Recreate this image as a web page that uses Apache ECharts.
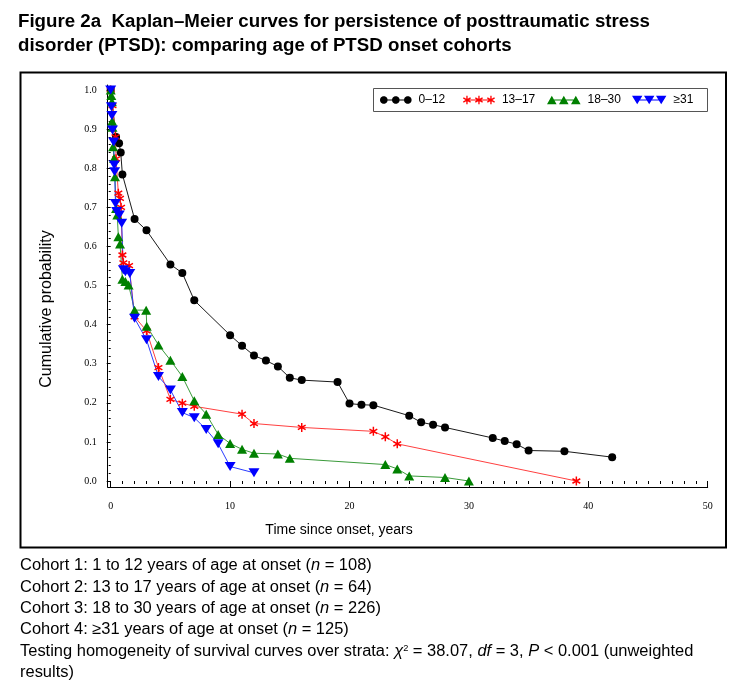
<!DOCTYPE html>
<html><head><meta charset="utf-8">
<script src="https://cdn.jsdelivr.net/npm/echarts@6/dist/echarts.min.js"></script>
<style>html,body{margin:0;padding:0;background:#fff}#c{width:745px;height:696px}</style>
</head><body><div id="c"></div>
<script>
// ---------- data (time since onset in years, cumulative probability) ----------
const legendNames = ['0–12', '13–17', '18–30', '≥31'];
const persist0to12 = [[0,1.0],[0.45,0.88],[0.7,0.864],[0.84,0.84],[0.98,0.784],[2,0.67],[3,0.641],[5,0.554],[6,0.532],[7,0.462],[10,0.373],[11,0.346],[12,0.321],[13,0.308],[14,0.293],[15,0.264],[16,0.258],[19,0.253],[20,0.198],[21,0.195],[22,0.194],[25,0.167],[26,0.15],[27,0.144],[28,0.137],[32,0.11],[33,0.102],[34,0.094],[35,0.078],[38,0.076],[42,0.061]];
const persist13to17 = [[0,1.0],[0.15,0.96],[0.4,0.88],[0.45,0.824],[0.64,0.736],[0.78,0.723],[0.87,0.70],[0.98,0.578],[1.06,0.558],[1.54,0.551],[2,0.42],[3,0.384],[4,0.29],[5,0.209],[6,0.199],[7,0.191],[11,0.171],[12,0.147],[16,0.137],[22,0.127],[23,0.113],[24,0.095],[39,0.0]];
const persist18to30 = [[0,1.0],[0.05,0.986],[0.1,0.97],[0.12,0.92],[0.15,0.905],[0.2,0.855],[0.28,0.825],[0.36,0.778],[0.45,0.697],[0.55,0.68],[0.64,0.625],[0.78,0.606],[0.98,0.516],[1.23,0.51],[1.5,0.501],[2,0.437],[2.97,0.437],[3.02,0.396],[4,0.348],[5,0.309],[6,0.267],[7,0.205],[8,0.171],[9,0.119],[10,0.096],[11,0.081],[12,0.071],[14,0.069],[15,0.058],[23,0.042],[24,0.031],[25,0.013],[28,0.009],[30,0.0]];
const persist31plus = [[0,1.0],[0.06,0.957],[0.1,0.935],[0.15,0.898],[0.25,0.867],[0.3,0.808],[0.33,0.791],[0.4,0.71],[0.5,0.689],[0.72,0.68],[0.92,0.659],[1.06,0.54],[1.23,0.535],[1.6,0.531],[2,0.416],[3,0.361],[4,0.267],[5,0.233],[6,0.175],[7,0.162],[8,0.132],[9,0.095],[10,0.037],[12,0.021]];
const titleLines = ['Figure 2a  Kaplan–Meier curves for persistence of posttraumatic stress', 'disorder (PTSD): comparing age of PTSD onset cohorts'];
const noteLines = [
  'Cohort 1: 1 to 12 years of age at onset ({i|n} = 108)',
  'Cohort 2: 13 to 17 years of age at onset ({i|n} = 64)',
  'Cohort 3: 18 to 30 years of age at onset ({i|n} = 226)',
  'Cohort 4: ≥31 years of age at onset ({i|n} = 125)',
  'Testing homogeneity of survival curves over strata: {i|χ}{sup|2} = 38.07, {i|df} = 3, {i|P} < 0.001 (unweighted',
  'results)'
];

// ---------- shape helpers ----------
function polyPath(pts){
  let a=0; for(let i=0;i<pts.length;i++){const p=pts[i],q=pts[(i+1)%pts.length]; a+=p[0]*q[1]-q[0]*p[1];}
  if(a<0) pts=pts.slice().reverse();
  return 'M'+pts.map(p=>p[0].toFixed(2)+','+p[1].toFixed(2)).join('L')+'Z';
}
function rectAlong(cx,cy,ang,half,w){
  const u=[Math.cos(ang),Math.sin(ang)], v=[-u[1],u[0]];
  return [[cx+u[0]*half+v[0]*w, cy+u[1]*half+v[1]*w],[cx+u[0]*half-v[0]*w, cy+u[1]*half-v[1]*w],
          [cx-u[0]*half-v[0]*w, cy-u[1]*half-v[1]*w],[cx-u[0]*half+v[0]*w, cy-u[1]*half+v[1]*w]];
}
function circlePts(cx,cy,r){const n=24,o=[];for(let k=0;k<n;k++){const t=k*2*Math.PI/n;o.push([cx+r*Math.cos(t),cy+r*Math.sin(t)]);}return o;}
function asteriskPolys(cx,cy,r,w){return [90,30,150].map(a=>rectAlong(cx,cy,a*Math.PI/180,r,w));}
function triUp(cx,cy,hw,hh){return [[cx,cy-hh],[cx+hw,cy+hh],[cx-hw,cy+hh]];}
function triDown(cx,cy,hw,hh){return [[cx-hw,cy-hh],[cx+hw,cy-hh],[cx,cy+hh]];}
function buildIcon(kind){
  const cs=[4,16,28], cy=5; let polys=[];
  polys.push([[cs[0],cy-0.5],[cs[2],cy-0.5],[cs[2],cy+0.5],[cs[0],cy+0.5]]);
  cs.forEach(c=>{
    if(kind==='circle') polys.push(circlePts(c,cy,3.8));
    else if(kind==='asterisk') polys=polys.concat(asteriskPolys(c,cy,4.2,0.65));
    else if(kind==='up') polys.push(triUp(c,cy,4.8,4.2));
    else polys.push(triDown(c,cy,5.2,4.2));
  });
  let mx=1e9,my=1e9,Mx=-1e9,My=-1e9;
  polys.forEach(p=>p.forEach(q=>{mx=Math.min(mx,q[0]);my=Math.min(my,q[1]);Mx=Math.max(Mx,q[0]);My=Math.max(My,q[1]);}));
  polys=polys.map(p=>p.map(q=>[q[0]-mx,q[1]-my]));
  return {path:'path://'+polys.map(polyPath).join(''), w:Mx-mx, h:My-my};
}
const asteriskSymbol = 'path://'+asteriskPolys(0,0,4,0.65).map(polyPath).join('');

// ---------- text fitting ----------
const mctx=document.createElement('canvas').getContext('2d');
function measure(t,font){mctx.font=font;return mctx.measureText(t).width;}
const titleFont='bold 18px "Liberation Sans"';
const titleScale = 632/measure(titleLines[0], titleFont);
const noteFont='16px "Liberation Sans"';
const noteScale = 677/measure('Testing homogeneity of survival curves over strata: χ2 = 38.07, df = 3, P < 0.001 (unweighted', noteFont);

const colors = ['#000000','#ff0000','#008000','#0000ff'];
const lineColors = ['#1a1a1a','#ff4040','#3a9a3a','#2a3cff'];
const iconKinds = ['circle','asterisk','up','down'];
const legendLefts = [380,463,547,632];

const chart = echarts.init(document.getElementById('c'), null, {renderer:'canvas'});

const graphics = [];
graphics.push({type:'rect', shape:{x:20.5,y:72.5,width:705.5,height:475}, style:{fill:'none',stroke:'#000',lineWidth:2}, silent:true});
graphics.push({type:'rect', shape:{x:373.5,y:88.5,width:334,height:23}, style:{fill:'none',stroke:'#555',lineWidth:1}, silent:true});
titleLines.forEach((t,i)=>graphics.push({type:'text', x:18, y:[22,46][i], scaleX:titleScale,
  style:{text:t, font:titleFont, fill:'#000', verticalAlign:'middle', align:'left'}}));
const noteY=[566,588,609,630,652,673];
noteLines.forEach((t,i)=>graphics.push({type:'text', x:20, y:noteY[i], scaleX:noteScale,
  style:{text:t, fontSize:16, fontFamily:'Liberation Sans', fill:'#000', verticalAlign:'middle', align:'left',
    rich:{i:{fontStyle:'italic',fontSize:16,fontFamily:'Liberation Sans'}, sup:{fontSize:9,fontFamily:'Liberation Sans',verticalAlign:'top'}}}}));
graphics.push({type:'text', x:47, y:309, rotation:Math.PI/2,
  style:{text:'Cumulative probability', fontSize:16, fontFamily:'Liberation Sans', fill:'#000', align:'center', verticalAlign:'middle'}});
graphics.push({type:'text', x:339, y:530,
  style:{text:'Time since onset, years', fontSize:14, fontFamily:'Liberation Sans', fill:'#000', align:'center', verticalAlign:'middle'}});

const legends = legendNames.map((n,i)=>{
  const ic=buildIcon(iconKinds[i]);
  return {left:legendLefts[i], top:93, padding:0, itemWidth:ic.w, itemHeight:ic.h, itemGap:0,
    selectedMode:false, data:[{name:n, icon:ic.path}], itemStyle:{borderWidth:0},
    textStyle:{fontSize:12, fontFamily:'Liberation Sans', color:'#000', lineHeight:14, padding:[0,0,0,2]}};
});

const seriesData=[persist0to12,persist13to17,persist18to30,persist31plus];
const symbols=['circle',asteriskSymbol,'triangle','triangle'];
const symSizes=[8,9,[10,9],[11,9]];
const series = seriesData.map((d,i)=>({
  name:legendNames[i], type:'line', xAxisIndex:0, yAxisIndex:0, data:d,
  symbol:symbols[i], symbolSize:symSizes[i], symbolRotate:i===3?180:0, symbolKeepAspect:i===1,
  showSymbol:true, showAllSymbol:true, clip:false, animation:false,
  itemStyle:{color:colors[i], borderWidth:0},
  lineStyle:{color:lineColors[i], width:1},
  emphasis:{disabled:true}
}));

chart.setOption({
  animation:false,
  backgroundColor:'#fff',
  legend: legends,
  grid:[
    {left:110.7, right:37.3, top:90, bottom:215, containLabel:false},
    {left:107.7, right:37.3, top:85, bottom:209, containLabel:false}
  ],
  xAxis:[
    {type:'value', gridIndex:0, min:0, max:50, interval:10, offset:6,
     axisLine:{show:false}, splitLine:{show:false},
     axisTick:{show:true, length:6, lineStyle:{color:'#000'}},
     minorTick:{show:true, splitNumber:10, length:3, lineStyle:{color:'#000'}},
     axisLabel:{margin:14, fontSize:10, fontFamily:'Liberation Serif', color:'#000'}},
    {type:'value', gridIndex:1, min:0, max:1, axisLine:{show:true, onZero:false, lineStyle:{color:'#000',width:1}},
     axisTick:{show:false}, axisLabel:{show:false}, splitLine:{show:false}}
  ],
  yAxis:[
    {type:'value', gridIndex:0, min:0, max:1, interval:0.1, offset:3,
     axisLine:{show:false}, splitLine:{show:false},
     axisTick:{show:true, length:4, lineStyle:{color:'#000'}},
     minorTick:{show:true, splitNumber:5, length:2, lineStyle:{color:'#000'}},
     axisLabel:{margin:11, fontSize:10, fontFamily:'Liberation Serif', color:'#000', padding:[5,0,0,0], formatter:v=>v.toFixed(1)}},
    {type:'value', gridIndex:1, min:0, max:1, axisLine:{show:true, onZero:false, lineStyle:{color:'#000',width:1}},
     axisTick:{show:false}, axisLabel:{show:false}, splitLine:{show:false}}
  ],
  series: series,
  graphic: graphics
});
</script></body></html>
